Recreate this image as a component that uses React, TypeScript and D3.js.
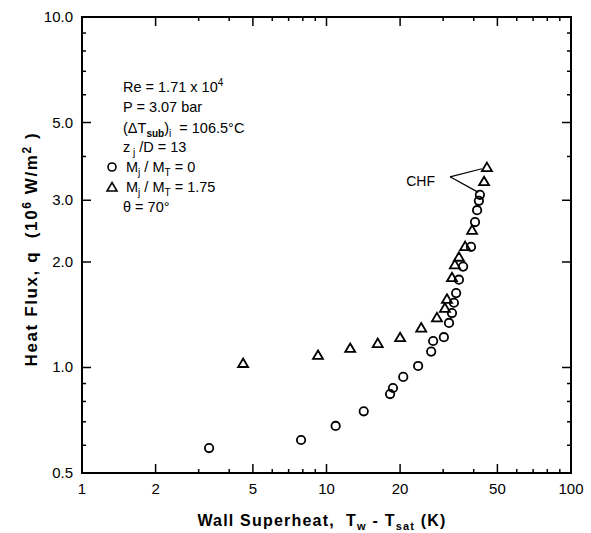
import React from 'react';
import * as d3 from 'd3';

// wall superheat (K) and heat flux (MW/m2)
const circleT = [3.31, 7.87, 10.9, 14.2, 18.2, 18.7, 20.6, 23.7, 26.8, 27.3, 30.2, 31.7, 32.6, 33.2, 33.9, 34.8, 36.2, 39.0, 40.5, 41.3, 42.0, 42.4];
const circleQ = [0.589, 0.621, 0.681, 0.75, 0.84, 0.874, 0.94, 1.01, 1.11, 1.19, 1.22, 1.34, 1.43, 1.53, 1.63, 1.78, 1.94, 2.21, 2.6, 2.81, 2.99, 3.11];
const triT = [4.56, 9.23, 12.5, 16.2, 20.0, 24.4, 28.3, 30.5, 31.1, 32.6, 33.5, 34.8, 36.9, 39.4, 44.1, 45.3];
const triQ = [1.03, 1.086, 1.137, 1.174, 1.22, 1.3, 1.39, 1.48, 1.57, 1.81, 1.97, 2.07, 2.22, 2.47, 3.4, 3.73];

const xMajor = [1, 2, 5, 10, 20, 50, 100];
const xLabels = ['1', '2', '5', '10', '20', '50', '100'];
const yMajor = [0.5, 1, 2, 3, 5, 10];
const yLabels = ['0.5', '1.0', '2.0', '3.0', '5.0', '10.0'];

// CHF note: label anchor and the two points it points at
const chfAnchor = [32, 3.5];
const chfTargets = [[43.2, 3.69], [41.8, 3.16]];

const W = 591;
const H = 533;
const x = d3.scaleLog().domain([1, 100]).range([82, 571]);
const y = d3.scaleLog().domain([0.5, 10]).range([473, 17]);

const tri = (cx: number, cy: number) =>
  `M${cx},${cy - 4.5}L${cx + 5},${cy + 4}L${cx - 5},${cy + 4}Z`;

export default function App() {
  const [x0, x1] = x.range();
  const [y0, y1] = y.range();
  const xMinor = x.ticks().filter(t => !xMajor.includes(t));
  const yMinor = y.ticks().filter(t => !yMajor.some(m => Math.abs(m - t) < 1e-9));
  const font = "'Liberation Sans', Arial, sans-serif";
  const ax = chfAnchor;

  return (
    <svg width={W} height={H} style={{ position: 'absolute', left: 0, top: 0, background: '#fff' }}
      fontFamily={font}>
      {/* frame */}
      <rect x={x0} y={y1} width={x1 - x0} height={y0 - y1} fill="none" stroke="#000" strokeWidth={2} />

      {/* x ticks, bottom and top, pointing inward */}
      {xMajor.slice(1, -1).map(t => (
        <g key={'xM' + t}>
          <line x1={x(t)} x2={x(t)} y1={y0} y2={y0 - 9} stroke="#000" strokeWidth={1.5} />
          <line x1={x(t)} x2={x(t)} y1={y1} y2={y1 + 9} stroke="#000" strokeWidth={1.5} />
        </g>
      ))}
      {xMinor.map(t => (
        <g key={'xm' + t}>
          <line x1={x(t)} x2={x(t)} y1={y0} y2={y0 - 4} stroke="#000" strokeWidth={1.5} />
          <line x1={x(t)} x2={x(t)} y1={y1} y2={y1 + 4} stroke="#000" strokeWidth={1.5} />
        </g>
      ))}
      {xMajor.map((t, i) => (
        <text key={'xl' + t} x={x(t)} y={y0 + 21} textAnchor="middle" fontSize={15}>{xLabels[i]}</text>
      ))}

      {/* y ticks, left and right */}
      {yMajor.slice(1, -1).map(t => (
        <g key={'yM' + t}>
          <line x1={x0} x2={x0 + 9} y1={y(t)} y2={y(t)} stroke="#000" strokeWidth={1.5} />
          <line x1={x1} x2={x1 - 9} y1={y(t)} y2={y(t)} stroke="#000" strokeWidth={1.5} />
        </g>
      ))}
      {yMinor.map(t => (
        <g key={'ym' + t}>
          <line x1={x0} x2={x0 + 4} y1={y(t)} y2={y(t)} stroke="#000" strokeWidth={1.5} />
          <line x1={x1} x2={x1 - 4} y1={y(t)} y2={y(t)} stroke="#000" strokeWidth={1.5} />
        </g>
      ))}
      {yMajor.map((t, i) => (
        <text key={'yl' + t} x={x0 - 9} y={y(t) + 5} textAnchor="end" fontSize={15}>{yLabels[i]}</text>
      ))}

      {/* axis titles */}
      <text x={322} y={526} textAnchor="middle" fontSize={16} fontWeight="bold" letterSpacing={1.2}>
        Wall Superheat,{'\u00a0\u00a0'}T<tspan dy={4} fontSize={11}>w</tspan>
        <tspan dy={-4}> - T</tspan><tspan dy={4} fontSize={11}>sat</tspan>
        <tspan dy={-4}> (K)</tspan>
      </text>
      <text transform={`translate(37,249) rotate(-90)`} textAnchor="middle" fontSize={17}
        fontWeight="bold" letterSpacing={1.6}>
        Heat Flux, q{'\u00a0\u00a0'}(10<tspan dy={-6} fontSize={12}>6</tspan>
        <tspan dy={6}> W/m</tspan><tspan dy={-6} fontSize={12}>2</tspan>
        <tspan dy={6}> )</tspan>
      </text>

      {/* parameter block */}
      <g fontSize={14.5}>
        <text x={123} y={92}>Re = 1.71 x 10<tspan dy={-6} fontSize={10}>4</tspan></text>
        <text x={123} y={112}>P = 3.07 bar</text>
        <text x={123} y={133}>(ΔT<tspan dy={4} fontSize={10} fontWeight="bold">sub</tspan>
          <tspan dy={-4}>)</tspan><tspan dy={4} fontSize={10}>i</tspan><tspan dy={-4}>{'\u00a0\u00a0'}= 106.5°C</tspan>
        </text>
        <text x={123} y={152}>z<tspan dy={4} fontSize={10}> j</tspan><tspan dy={-4}> /D = 13</tspan></text>
        <circle cx={112} cy={167} r={4} fill="none" stroke="#000" strokeWidth={1.6} />
        <text x={126} y={172}>M<tspan dy={4} fontSize={10}>j</tspan><tspan dy={-4}> / M</tspan>
          <tspan dy={4} fontSize={10}>T</tspan><tspan dy={-4}> = 0</tspan></text>
        <path d={tri(112, 187)} fill="none" stroke="#000" strokeWidth={1.6} />
        <text x={126} y={192}>M<tspan dy={4} fontSize={10}>j</tspan><tspan dy={-4}> / M</tspan>
          <tspan dy={4} fontSize={10}>T</tspan><tspan dy={-4}> = 1.75</tspan></text>
        <text x={123} y={212}>θ = 70°</text>
      </g>

      {/* CHF note */}
      <text x={x(ax[0]) - 15} y={y(ax[1]) + 9} textAnchor="end" fontSize={14}>CHF</text>
      {chfTargets.map((p, i) => (
        <line key={'chf' + i} x1={x(ax[0])} y1={y(ax[1])} x2={x(p[0])} y2={y(p[1])} stroke="#000" strokeWidth={1.2} />
      ))}

      {/* data */}
      {circleT.map((t, i) => (
        <circle key={'c' + i} cx={x(t)} cy={y(circleQ[i])} r={4.2} fill="none" stroke="#000" strokeWidth={1.8} />
      ))}
      {triT.map((t, i) => (
        <path key={'t' + i} d={tri(x(t), y(triQ[i]))} fill="none" stroke="#000" strokeWidth={1.8} />
      ))}
    </svg>
  );
}
